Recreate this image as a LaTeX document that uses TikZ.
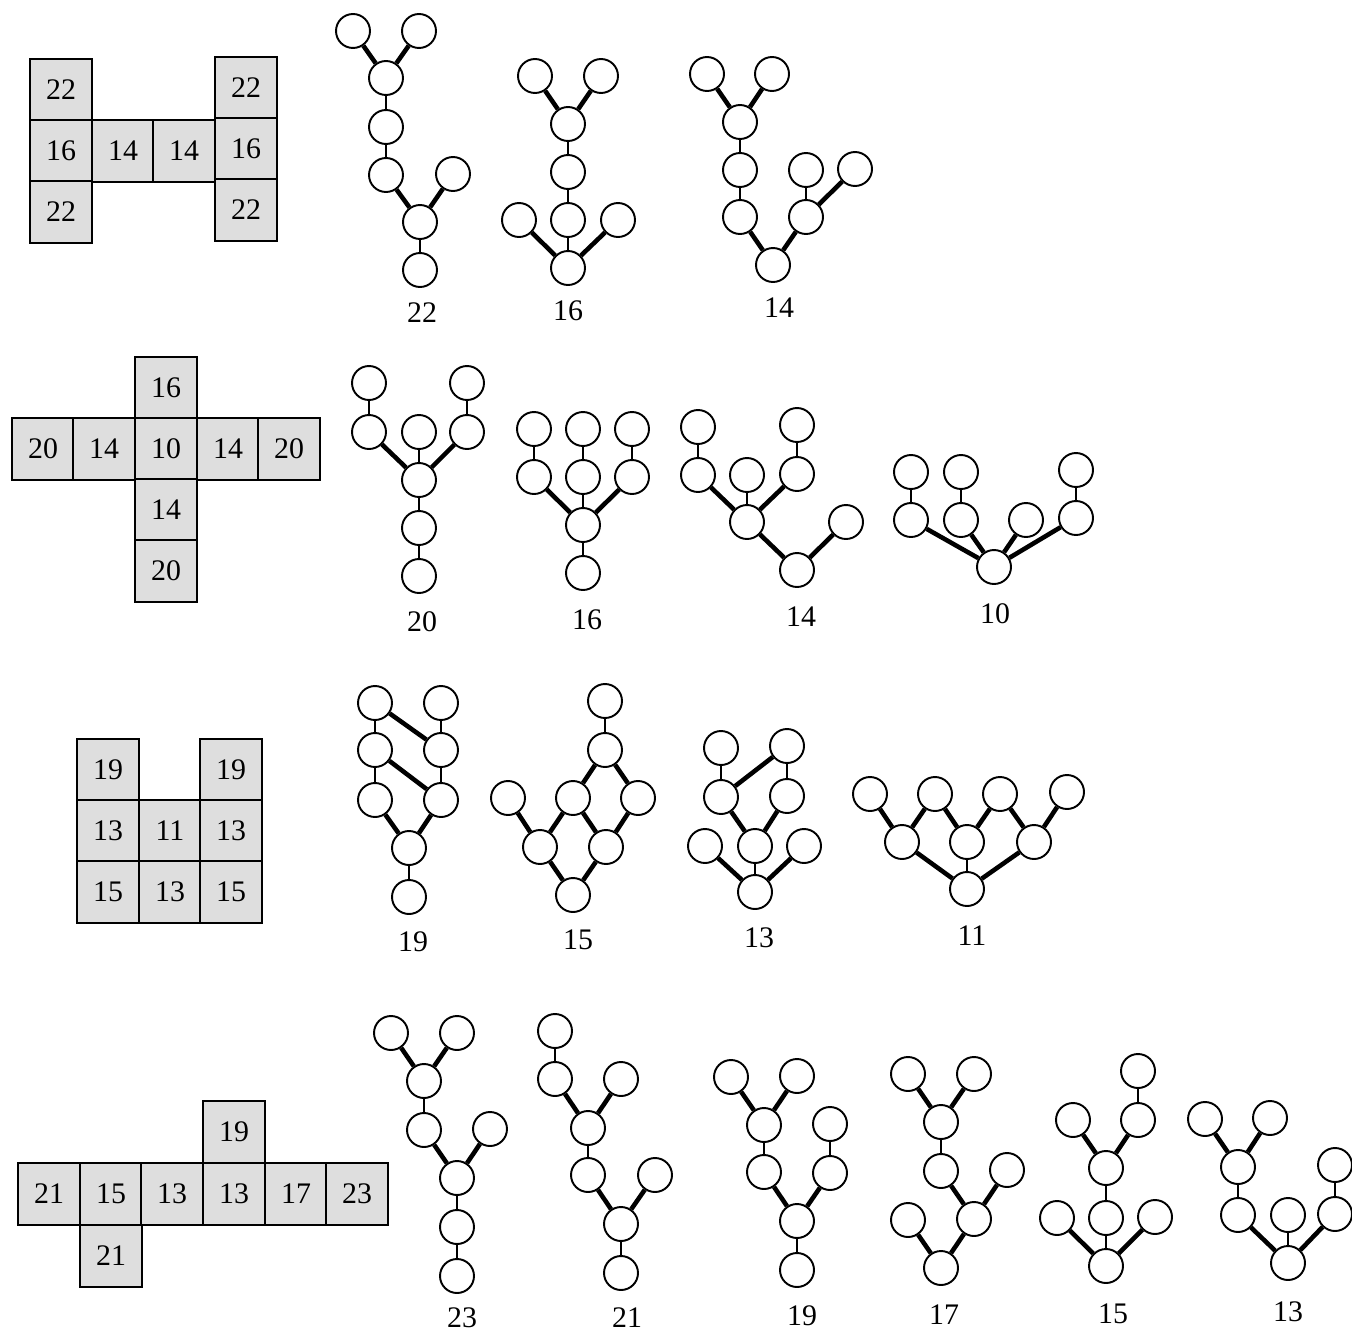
\documentclass[tikz,border=0pt]{standalone}
\usepackage{fontspec}
\setmainfont{Liberation Serif}
\begin{document}
\begin{tikzpicture}[x=0.02cm, y=-0.02cm,
    v/.style={circle, draw, line width=1.1pt, minimum size=0.68cm, inner sep=0pt},
    thk/.style={line width=2.6pt},
    thn/.style={line width=0.8pt},
    cell/.style={draw, line width=1pt, fill=black!13, minimum size=1.23cm, inner sep=0pt, font=\fontsize{17}{19}\selectfont},
    lbl/.style={font=\fontsize{17}{19}\selectfont}]
    \useasboundingbox (0,0) rectangle (1352,1335);
    % Grid 1
    \node[cell] (g1a) at (61,90) {22}; \node[cell] (g1b) at (61,151) {16}; \node[cell] (g1c) at (61,212) {22};
    \node[cell] (g1d) at (123,151) {14}; \node[cell] (g1e) at (184,151) {14};
    \node[cell] (g1f) at (246,88) {22}; \node[cell] (g1g) at (246,149) {16}; \node[cell] (g1h) at (246,210) {22};
    % Grid 2
    \node[cell] (g2a) at (166,388) {16};
    \node[cell] (g2b) at (43,449) {20}; \node[cell] (g2c) at (104,449) {14}; \node[cell] (g2d) at (166,449) {10};
    \node[cell] (g2e) at (228,449) {14}; \node[cell] (g2f) at (289,449) {20};
    \node[cell] (g2g) at (166,510) {14}; \node[cell] (g2h) at (166,571) {20};
    % Grid 3
    \node[cell] (g3a) at (108,770) {19}; \node[cell] (g3b) at (108,831) {13}; \node[cell] (g3c) at (108,892) {15};
    \node[cell] (g3d) at (170,831) {11}; \node[cell] (g3e) at (170,892) {13};
    \node[cell] (g3f) at (231,770) {19}; \node[cell] (g3g) at (231,831) {13}; \node[cell] (g3h) at (231,892) {15};
    % Grid 4
    \node[cell] (g4a) at (234,1132) {19};
    \node[cell] (g4b) at (49,1194) {21}; \node[cell] (g4c) at (111,1194) {15}; \node[cell] (g4d) at (172,1194) {13};
    \node[cell] (g4e) at (234,1194) {13}; \node[cell] (g4f) at (296,1194) {17}; \node[cell] (g4g) at (357,1194) {23};
    \node[cell] (g4h) at (111,1256) {21};
    % Row 1 trees
    \node[v] (a1) at (353,31) {}; \node[v] (a2) at (419,31) {}; \node[v] (a3) at (386,78) {}; \node[v] (a4) at (386,127) {};
    \node[v] (a5) at (386,175) {}; \node[v] (a6) at (453,174) {}; \node[v] (a7) at (420,222) {}; \node[v] (a8) at (420,270) {};
    \draw[thk] (a1) -- (a3) -- (a2); \draw[thk] (a5) -- (a7) -- (a6);
    \draw[thn] (a3) -- (a4) -- (a5); \draw[thn] (a7) -- (a8);
    \node[lbl] (la) at (422,313) {22};
    \node[v] (b1) at (535,76) {}; \node[v] (b2) at (601,76) {}; \node[v] (b3) at (568,124) {}; \node[v] (b4) at (568,172) {};
    \node[v] (b5) at (568,220) {}; \node[v] (b6) at (519,220) {}; \node[v] (b7) at (618,220) {}; \node[v] (b8) at (568,268) {};
    \draw[thk] (b1) -- (b3) -- (b2); \draw[thk] (b6) -- (b8) -- (b7);
    \draw[thn] (b3) -- (b4) -- (b5) -- (b8);
    \node[lbl] (lb) at (568,311) {16};
    \node[v] (c1) at (707,74) {}; \node[v] (c2) at (772,74) {}; \node[v] (c3) at (740,122) {}; \node[v] (c4) at (740,170) {};
    \node[v] (c5) at (740,217) {}; \node[v] (c6) at (806,170) {}; \node[v] (c7) at (855,169) {}; \node[v] (c8) at (806,217) {};
    \node[v] (c9) at (773,265) {};
    \draw[thk] (c1) -- (c3) -- (c2); \draw[thk] (c5) -- (c9) -- (c8) -- (c7);
    \draw[thn] (c3) -- (c4) -- (c5); \draw[thn] (c6) -- (c8);
    \node[lbl] (lc) at (779,308) {14};
    % Row 2 trees
    \node[v] (d1) at (369,383) {}; \node[v] (d2) at (467,383) {}; \node[v] (d3) at (369,432) {}; \node[v] (d4) at (419,432) {};
    \node[v] (d5) at (467,432) {}; \node[v] (d6) at (419,480) {}; \node[v] (d7) at (419,528) {}; \node[v] (d8) at (419,576) {};
    \draw[thk] (d3) -- (d6) -- (d5);
    \draw[thn] (d1) -- (d3); \draw[thn] (d2) -- (d5); \draw[thn] (d4) -- (d6) -- (d7) -- (d8);
    \node[lbl] (ld) at (422,622) {20};
    \node[v] (e1) at (534,429) {}; \node[v] (e2) at (583,429) {}; \node[v] (e3) at (632,429) {}; \node[v] (e4) at (534,477) {};
    \node[v] (e5) at (583,477) {}; \node[v] (e6) at (632,477) {}; \node[v] (e7) at (583,525) {}; \node[v] (e8) at (583,573) {};
    \draw[thk] (e4) -- (e7) -- (e6);
    \draw[thn] (e1) -- (e4); \draw[thn] (e2) -- (e5) -- (e7) -- (e8); \draw[thn] (e3) -- (e6);
    \node[lbl] (le) at (587,620) {16};
    \node[v] (f1) at (698,427) {}; \node[v] (f2) at (797,425) {}; \node[v] (f3) at (698,475) {}; \node[v] (f4) at (747,475) {};
    \node[v] (f5) at (797,474) {}; \node[v] (f6) at (747,522) {}; \node[v] (f7) at (846,522) {}; \node[v] (f8) at (797,570) {};
    \draw[thk] (f3) -- (f6) -- (f5); \draw[thk] (f6) -- (f8) -- (f7);
    \draw[thn] (f1) -- (f3); \draw[thn] (f2) -- (f5); \draw[thn] (f4) -- (f6);
    \node[lbl] (lf) at (801,617) {14};
    \node[v] (k1) at (911,472) {}; \node[v] (k2) at (961,472) {}; \node[v] (k3) at (1076,470) {}; \node[v] (k4) at (911,520) {};
    \node[v] (k5) at (961,520) {}; \node[v] (k6) at (1026,520) {}; \node[v] (k7) at (1076,518) {}; \node[v] (k8) at (994,567) {};
    \draw[thk] (k4) -- (k8) -- (k5); \draw[thk] (k6) -- (k8) -- (k7);
    \draw[thn] (k1) -- (k4); \draw[thn] (k2) -- (k5); \draw[thn] (k3) -- (k7);
    \node[lbl] (lk) at (995,614) {10};
    % Row 3 trees
    \node[v] (h1) at (375,703) {}; \node[v] (h2) at (441,703) {}; \node[v] (h3) at (375,750) {}; \node[v] (h4) at (441,750) {};
    \node[v] (h5) at (375,800) {}; \node[v] (h6) at (441,800) {}; \node[v] (h7) at (409,848) {}; \node[v] (h8) at (409,897) {};
    \draw[thk] (h1) -- (h4); \draw[thk] (h3) -- (h6); \draw[thk] (h5) -- (h7) -- (h6);
    \draw[thn] (h1) -- (h3) -- (h5); \draw[thn] (h2) -- (h4) -- (h6); \draw[thn] (h7) -- (h8);
    \node[lbl] (lh) at (413,942) {19};
    \node[v] (i1) at (605,701) {}; \node[v] (i2) at (605,750) {}; \node[v] (i3) at (508,798) {}; \node[v] (i4) at (573,798) {};
    \node[v] (i5) at (638,798) {}; \node[v] (i6) at (540,847) {}; \node[v] (i7) at (606,847) {}; \node[v] (i8) at (573,895) {};
    \draw[thk] (i4) -- (i2) -- (i5); \draw[thk] (i3) -- (i6) -- (i4) -- (i7) -- (i5);
    \draw[thk] (i6) -- (i8) -- (i7);
    \draw[thn] (i1) -- (i2);
    \node[lbl] (li) at (578,940) {15};
    \node[v] (j1) at (721,748) {}; \node[v] (j2) at (787,746) {}; \node[v] (j3) at (721,797) {}; \node[v] (j4) at (787,796) {};
    \node[v] (j5) at (755,846) {}; \node[v] (j6) at (705,846) {}; \node[v] (j7) at (804,846) {}; \node[v] (j8) at (755,892) {};
    \draw[thk] (j2) -- (j3) -- (j5) -- (j4); \draw[thk] (j6) -- (j8) -- (j7);
    \draw[thn] (j1) -- (j3); \draw[thn] (j2) -- (j4); \draw[thn] (j5) -- (j8);
    \node[lbl] (lj) at (759,938) {13};
    \node[v] (m1) at (870,794) {}; \node[v] (m2) at (935,794) {}; \node[v] (m3) at (1000,794) {}; \node[v] (m4) at (1067,792) {};
    \node[v] (m5) at (902,842) {}; \node[v] (m6) at (967,842) {}; \node[v] (m7) at (1034,842) {}; \node[v] (m8) at (967,889) {};
    \draw[thk] (m1) -- (m5) -- (m2) -- (m6) -- (m3) -- (m7) -- (m4);
    \draw[thk] (m5) -- (m8) -- (m7);
    \draw[thn] (m6) -- (m8);
    \node[lbl] (lm) at (972,936) {11};
    % Row 4 trees
    \node[v] (n1) at (391,1033) {}; \node[v] (n2) at (457,1033) {}; \node[v] (n3) at (424,1081) {}; \node[v] (n4) at (424,1130) {};
    \node[v] (n5) at (490,1129) {}; \node[v] (n6) at (457,1178) {}; \node[v] (n7) at (457,1227) {}; \node[v] (n8) at (457,1276) {};
    \draw[thk] (n1) -- (n3) -- (n2); \draw[thk] (n4) -- (n6) -- (n5);
    \draw[thn] (n3) -- (n4); \draw[thn] (n6) -- (n7) -- (n8);
    \node[lbl] (ln) at (462,1318) {23};
    \node[v] (o1) at (555,1031) {}; \node[v] (o2) at (555,1079) {}; \node[v] (o3) at (621,1079) {}; \node[v] (o4) at (588,1128) {};
    \node[v] (o5) at (588,1175) {}; \node[v] (o6) at (655,1175) {}; \node[v] (o7) at (621,1224) {}; \node[v] (o8) at (621,1273) {};
    \draw[thk] (o2) -- (o4) -- (o3); \draw[thk] (o5) -- (o7) -- (o6);
    \draw[thn] (o1) -- (o2); \draw[thn] (o4) -- (o5); \draw[thn] (o7) -- (o8);
    \node[lbl] (lo) at (627,1318) {21};
    \node[v] (p1) at (731,1077) {}; \node[v] (p2) at (797,1076) {}; \node[v] (p3) at (764,1125) {}; \node[v] (p4) at (830,1124) {};
    \node[v] (p5) at (764,1172) {}; \node[v] (p6) at (830,1173) {}; \node[v] (p7) at (797,1221) {}; \node[v] (p8) at (797,1270) {};
    \draw[thk] (p1) -- (p3) -- (p2); \draw[thk] (p5) -- (p7) -- (p6);
    \draw[thn] (p3) -- (p5); \draw[thn] (p4) -- (p6); \draw[thn] (p7) -- (p8);
    \node[lbl] (lp) at (802,1316) {19};
    \node[v] (q1) at (908,1074) {}; \node[v] (q2) at (974,1074) {}; \node[v] (q3) at (941,1122) {}; \node[v] (q4) at (941,1171) {};
    \node[v] (q5) at (1007,1170) {}; \node[v] (q6) at (974,1219) {}; \node[v] (q7) at (908,1220) {}; \node[v] (q8) at (941,1268) {};
    \draw[thk] (q1) -- (q3) -- (q2); \draw[thk] (q4) -- (q6) -- (q5); \draw[thk] (q7) -- (q8) -- (q6);
    \draw[thn] (q3) -- (q4);
    \node[lbl] (lq) at (944,1315) {17};
    \node[v] (r1) at (1138,1071) {}; \node[v] (r2) at (1073,1120) {}; \node[v] (r3) at (1138,1120) {}; \node[v] (r4) at (1106,1168) {};
    \node[v] (r5) at (1106,1218) {}; \node[v] (r6) at (1057,1218) {}; \node[v] (r7) at (1155,1217) {}; \node[v] (r8) at (1106,1266) {};
    \draw[thk] (r2) -- (r4) -- (r3); \draw[thk] (r6) -- (r8) -- (r7);
    \draw[thn] (r1) -- (r3); \draw[thn] (r4) -- (r5) -- (r8);
    \node[lbl] (lr) at (1113,1314) {15};
    \node[v] (s1) at (1205,1119) {}; \node[v] (s2) at (1270,1118) {}; \node[v] (s3) at (1238,1167) {}; \node[v] (s4) at (1335,1165) {};
    \node[v] (s5) at (1238,1215) {}; \node[v] (s6) at (1288,1215) {}; \node[v] (s7) at (1335,1214) {}; \node[v] (s8) at (1288,1263) {};
    \draw[thk] (s1) -- (s3) -- (s2); \draw[thk] (s5) -- (s8) -- (s7);
    \draw[thn] (s3) -- (s5); \draw[thn] (s4) -- (s7); \draw[thn] (s6) -- (s8);
    \node[lbl] (ls) at (1288,1312) {13};
\end{tikzpicture}
\end{document}
